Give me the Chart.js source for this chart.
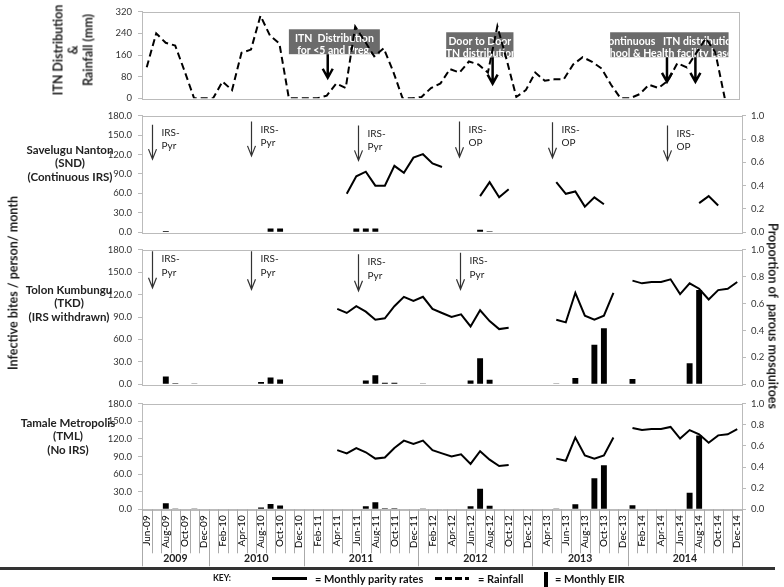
<!DOCTYPE html>
<html>
<head>
<meta charset="utf-8">
<script src="https://cdn.jsdelivr.net/npm/chart.js@4.4.1/dist/chart.umd.min.js"></script>
<style>
  body { margin: 0; background: #fff; font-family: Lato, sans-serif; }
  #wrap { position: relative; width: 784px; height: 587px; overflow: hidden; }
  .pane { position: absolute; left: 0; width: 784px; }
  .plabel { position: absolute; font-weight: bold; font-size: 11.5px; line-height: 13.3px; text-align: center; color: #222; }
  .rot { position: absolute; font-weight: bold; color: #222; white-space: nowrap; text-align: center; transform: translate(-50%, -50%) rotate(-90deg); }
  .key { position: absolute; font-weight: bold; font-size: 11px; color: #111; white-space: nowrap; }
</style>
</head>
<body>
<div id="wrap">
  <div class="pane" style="top:0;height:110px"><canvas id="rainChart"></canvas></div>
  <div class="pane" style="top:104px;height:140px"><canvas id="sndChart"></canvas></div>
  <div class="pane" style="top:238px;height:158px"><canvas id="tkdChart"></canvas></div>
  <div class="pane" style="top:392px;height:195px"><canvas id="tmlChart"></canvas></div>

  <div class="rot" style="left:73px;top:50px;font-size:12.5px;line-height:15px">ITN Distribution<br>&amp;<br>Rainfall (mm)</div>
  <div class="rot" style="left:13px;top:283px;font-size:12.5px">Infective bites / person/ month</div>
  <div class="rot" style="left:773px;top:316px;font-size:12.5px;transform:translate(-50%,-50%) rotate(90deg)">Proportion of&nbsp; parous mosquitoes</div>

  <div class="plabel" style="left:9px;top:143px;width:122px">Savelugu Nanton<br>(SND)<br>(Continuous IRS)</div>
  <div class="plabel" style="left:8px;top:283px;width:122px">Tolon Kumbungu<br>(TKD)<br>(IRS withdrawn)</div>
  <div class="plabel" style="left:7px;top:416px;width:122px">Tamale Metropolis<br>(TML)<br>(No IRS)</div>

  <div style="position:absolute;left:0;top:567px;width:775px;height:3px;background:#333"></div>
  <div class="key" style="left:213px;top:573px;font-size:8.5px">KEY:</div>
  <div style="position:absolute;left:272px;top:577px;width:35px;height:3px;background:#000"></div>
  <div class="key" style="left:315px;top:572px">= Monthly parity rates</div>
  <div style="position:absolute;left:435px;top:577px;width:34px;height:3px;background:repeating-linear-gradient(90deg,#000 0 7px,transparent 7px 10px)"></div>
  <div class="key" style="left:478px;top:572px">= Rainfall</div>
  <div style="position:absolute;left:544px;top:572px;width:4px;height:15px;background:#000"></div>
  <div class="key" style="left:555px;top:572px">= Monthly EIR</div>
</div>

<script>
// Months on the axis (one gap in 2010 and one before Apr-13, as in the figure)
const months = ['Jun-09','Jul-09','Aug-09','Sep-09','Oct-09','Nov-09','Dec-09',
  'Jan-10','Feb-10','Mar-10','Apr-10','May-10','Aug-10','Sep-10','Oct-10','Nov-10','Dec-10',
  'Jan-11','Feb-11','Mar-11','Apr-11','May-11','Jun-11','Jul-11','Aug-11','Sep-11','Oct-11','Nov-11','Dec-11',
  'Jan-12','Feb-12','Mar-12','Apr-12','May-12','Jun-12','Jul-12','Aug-12','Sep-12','Oct-12','Nov-12','Dec-12',
  'Mar-13','Apr-13','May-13','Jun-13','Jul-13','Aug-13','Sep-13','Oct-13','Nov-13','Dec-13',
  'Jan-14','Feb-14','Mar-14','Apr-14','May-14','Jun-14','Jul-14','Aug-14','Sep-14','Oct-14','Nov-14','Dec-14'];

// Rainfall (mm)
const rainfall = [115, 240, 205, 195, 100, 0, 0, 0, 62, 30,
  168, 180, 305, 232, 202, 0, 0, 0, 0, 10,
  55, 38, 265, 212, 155, 185, 100, 0, 0, 5,
  38, 55, 108, 95, 136, 125, 95, 266, 140, 5,
  30, 95, 65, 70, 70, 125, 152, 135, 110, 50,
  0, 0, 15, 50, 38, 65, 130, 114, 168, 222,
  170, 0, null];

// Savelugu Nanton
const sndEIR = [null, null, 2, null, null, null, null, null, null, null,
  null, null, null, 6, 6, null, null, null, null, null,
  null, null, 6, 6, 6, null, null, null, null, null,
  null, null, null, null, 0.8, 4, 1.5, null, null, null,
  null, null, null, null, null, null, null, null, null, null,
  null, null, null, null, null, null, null, null, null, null,
  null, null, null];
const sndParity = [null, null, null, null, null, null, null, null, null, null,
  null, null, null, null, null, null, null, null, null, null,
  null, 0.33, 0.48, 0.52, 0.40, 0.40, 0.57, 0.51, 0.64, 0.67,
  0.59, 0.56, null, null, null, 0.31, 0.43, 0.30, 0.37, null,
  null, null, null, 0.43, 0.33, 0.35, 0.22, 0.30, 0.24, null,
  null, null, null, null, null, null, null, null, 0.25, 0.31,
  0.23, null, null];

// Tolon Kumbungu
const tkdEIR = [null, null, 10.5, 1.5, null, 0.5, null, null, null, null,
  null, null, 3, 9, 6.5, null, null, null, null, null,
  null, null, null, 5, 12, 2, 2, null, null, 0.3,
  null, null, null, null, 5, 35, 6, null, null, null,
  null, null, null, 0.3, null, 8.5, null, 53, 75, null,
  null, 7, null, null, null, null, null, 28, 126, null,
  null, null, null];
const tkdParity = [null, null, null, null, null, null, null, null, null, null,
  null, null, null, null, null, null, null, null, null, null,
  0.56, 0.53, 0.58, 0.54, 0.48, 0.49, 0.58, 0.65, 0.62, 0.65,
  0.56, 0.53, 0.50, 0.52, 0.43, 0.55, 0.47, 0.41, 0.42, null,
  null, null, null, 0.48, 0.46, 0.68, 0.51, 0.48, 0.51, 0.68,
  null, 0.77, 0.75, 0.76, 0.76, 0.78, 0.67, 0.75, 0.71, 0.63,
  0.70, 0.71, 0.76];

// Tamale Metropolis
const tmlEIR = [null, null, 10.5, 1.5, null, 0.5, null, null, null, null,
  null, null, 3, 9, 6.5, null, null, null, null, null,
  null, null, null, 5, 12, 2, 2, null, null, 0.3,
  null, null, null, null, 5, 35, 6, null, null, null,
  null, null, null, 0.3, null, 8.5, null, 53, 75, null,
  null, 7, null, null, null, null, null, 28, 126, null,
  null, null, null];
const tmlParity = [null, null, null, null, null, null, null, null, null, null,
  null, null, null, null, null, null, null, null, null, null,
  0.56, 0.53, 0.58, 0.54, 0.48, 0.49, 0.58, 0.65, 0.62, 0.65,
  0.56, 0.53, 0.50, 0.52, 0.43, 0.55, 0.47, 0.41, 0.42, null,
  null, null, null, 0.48, 0.46, 0.68, 0.51, 0.48, 0.51, 0.68,
  null, 0.77, 0.75, 0.76, 0.76, 0.78, 0.67, 0.75, 0.71, 0.63,
  0.70, 0.71, 0.76];

// Interventions (at = month index, from/to = axis values)
const itnNotes = [
  { x0: 15.0, x1: 24.6, top: 255, bottom: 163, text: ['ITN  Distribution', 'for <5 and Preg.'], arrows: [19.1], tip: 76 },
  { x0: 31.6, x1: 38.7, top: 244, bottom: 152, text: ['Door to Door', 'ITN distribution'], arrows: [36.5], tip: 54 },
  { x0: 48.9, x1: 61.4, top: 244, bottom: 152, text: ['Continuous   ITN distribution', 'school & Health facility based'], arrows: [54.9, 57.9], tip: 61 }
];
const sndIRS = [
  { at: 0.55, from: 166, to: 113, text: ['IRS-', 'Pyr'] },
  { at: 10.9, from: 171, to: 118, text: ['IRS-', 'Pyr'] },
  { at: 22.2, from: 165, to: 111, text: ['IRS-', 'Pyr'] },
  { at: 32.8, from: 171, to: 116, text: ['IRS-', 'OP'] },
  { at: 42.6, from: 170, to: 115, text: ['IRS-', 'OP'] },
  { at: 54.6, from: 165, to: 111, text: ['IRS-', 'OP'] }
];
const tkdIRS = [
  { at: 0.52, from: 178, to: 129, text: ['IRS-', 'Pyr'] },
  { at: 10.9, from: 178, to: 127, text: ['IRS-', 'Pyr'] },
  { at: 22.2, from: 174, to: 125, text: ['IRS-', 'Pyr'] },
  { at: 32.9, from: 176, to: 127, text: ['IRS-', 'Pyr'] }
];

Chart.defaults.font.family = 'Lato';
Chart.defaults.animation = false;
Chart.defaults.plugins.legend.display = false;
Chart.defaults.plugins.tooltip.enabled = false;

const tickFont = { family: 'Lato', size: 9.5 };

function leftAxis(max, step, dec) {
  return {
    position: 'left', min: 0, max: max,
    ticks: { stepSize: step, callback: v => v.toFixed(dec), font: tickFont, color: '#333', padding: 6 },
    grid: { drawOnChartArea: false, tickLength: 4, color: '#bbb' },
    border: { color: '#bbb' },
    afterFit: s => { s.width = 142; }
  };
}
function rightAxis() {
  return {
    position: 'right', min: 0, max: 1,
    ticks: { stepSize: 0.2, callback: v => v.toFixed(1), font: tickFont, color: '#333', padding: 5 },
    grid: { drawOnChartArea: false, tickLength: 4, color: '#bbb' },
    border: { color: '#bbb' },
    afterFit: s => { s.width = 42; }
  };
}

const frame = {
  id: 'frame',
  beforeDatasetsDraw(chart) {
    const a = chart.chartArea, ctx = chart.ctx;
    ctx.save();
    ctx.strokeStyle = '#bbb';
    ctx.lineWidth = 1;
    ctx.strokeRect(Math.round(a.left) + 0.5, Math.round(a.top) + 0.5, Math.round(a.right - a.left), Math.round(a.bottom - a.top));
    ctx.restore();
  }
};

function arrow(ctx, x, y0, y1, w, hw, hh) {
  ctx.lineWidth = w;
  ctx.beginPath();
  ctx.moveTo(x, y0);
  ctx.lineTo(x, y1);
  ctx.moveTo(x - hw, y1 - hh);
  ctx.lineTo(x, y1);
  ctx.lineTo(x + hw, y1 - hh);
  ctx.stroke();
}

function irsMarks(list, gap) {
  return {
    id: 'irs',
    afterDatasetsDraw(chart) {
      const ctx = chart.ctx, xs = chart.scales.x, ys = chart.scales.y;
      ctx.save();
      ctx.strokeStyle = '#333';
      ctx.fillStyle = '#222';
      ctx.font = '10px Lato';
      ctx.textBaseline = 'middle';
      list.forEach(m => {
        const px = Math.round(xs.getPixelForValue(m.at)) + 0.5;
        const top = ys.getPixelForValue(m.from), bot = ys.getPixelForValue(m.to);
        arrow(ctx, px, top, bot, 1.2, 4, 10);
        m.text.forEach((t, k) => ctx.fillText(t, px + 9, top + 8 + k * gap));
      });
      ctx.restore();
    }
  };
}

const itnMarks = {
  id: 'itn',
  beforeDatasetsDraw(chart) {
    const ctx = chart.ctx, xs = chart.scales.x, ys = chart.scales.y;
    ctx.save();
    itnNotes.forEach(n => {
      const l = xs.getPixelForValue(n.x0), r = xs.getPixelForValue(n.x1);
      const t = ys.getPixelForValue(n.top), b = ys.getPixelForValue(n.bottom);
      ctx.fillStyle = '#6b6b6b';
      ctx.fillRect(l, t, r - l, b - t);
      ctx.save();
      ctx.beginPath();
      ctx.rect(l, t, r - l, b - t);
      ctx.clip();
      ctx.fillStyle = '#fff';
      ctx.font = 'bold 10.5px Lato';
      ctx.textAlign = 'center';
      ctx.textBaseline = 'middle';
      n.text.forEach((s, k) => ctx.fillText(s, (l + r) / 2, t + 9 + k * 12));
      ctx.restore();
    });
    ctx.restore();
  },
  afterDatasetsDraw(chart) {
    const ctx = chart.ctx, xs = chart.scales.x, ys = chart.scales.y;
    ctx.save();
    ctx.strokeStyle = '#000';
    itnNotes.forEach(n => {
      n.arrows.forEach(a => {
        arrow(ctx, xs.getPixelForValue(a), ys.getPixelForValue(n.bottom), ys.getPixelForValue(n.tip), 2.5, 5, 9);
      });
    });
    ctx.restore();
  }
};

// year groups under the month labels
const yearAxis = {
  id: 'years',
  afterDraw(chart) {
    const ctx = chart.ctx, xs = chart.scales.x, b = chart.chartArea.bottom;
    const starts = [];
    months.forEach((m, i) => { if (i === 0 || m.slice(-2) !== months[i - 1].slice(-2)) starts.push(i); });
    ctx.save();
    ctx.strokeStyle = '#aaa';
    ctx.lineWidth = 1;
    ctx.beginPath();
    for (let i = 0; i <= months.length; i++) {
      const x = Math.round(xs.getPixelForValue(i - 0.5)) + 0.5;
      const long = starts.includes(i) || i === months.length;
      ctx.moveTo(x, b);
      ctx.lineTo(x, b + (long ? 57 : 44));
    }
    ctx.stroke();
    ctx.fillStyle = '#222';
    ctx.font = 'bold 10.5px Lato';
    ctx.textAlign = 'center';
    ctx.textBaseline = 'middle';
    starts.forEach((s, k) => {
      const e = k + 1 < starts.length ? starts[k + 1] : months.length;
      ctx.fillText('20' + months[s].slice(-2), xs.getPixelForValue((s + e - 1) / 2), b + 49);
    });
    ctx.restore();
  }
};

// Rainfall
new Chart(document.getElementById('rainChart'), {
  type: 'line',
  data: {
    labels: months,
    datasets: [{
      data: rainfall,
      borderColor: '#000',
      borderWidth: 2,
      borderDash: [7, 4],
      pointRadius: 0
    }]
  },
  options: {
    responsive: true,
    maintainAspectRatio: false,
    layout: { padding: { top: 3.3, bottom: 8.3, right: 45, left: 0 } },
    scales: {
      x: { display: false, offset: true },
      y: leftAxis(320, 80, 0)
    }
  },
  plugins: [frame, itnMarks]
});

function sitePanel(id, eir, parity, padTop, padBottom, marks, showX) {
  const x = showX ? {
    offset: true,
    grid: { display: false, drawTicks: false },
    border: { color: '#bbb' },
    ticks: {
      autoSkip: false, minRotation: 90, maxRotation: 90, padding: 6,
      font: { family: 'Lato', size: 10 }, color: '#000',
      callback: (v, i) => (i % 2 === 0 ? months[i] : '')
    },
    afterFit: s => { s.height = 77.7; }
  } : { display: false, offset: true };
  const plugins = [frame];
  if (marks) plugins.push(marks);
  if (showX) plugins.push(yearAxis);
  new Chart(document.getElementById(id), {
    type: 'bar',
    data: {
      labels: months,
      datasets: [
        {
          type: 'line',
          data: parity,
          yAxisID: 'y1',
          borderColor: '#000',
          borderWidth: 2,
          pointRadius: 0
        },
        {
          data: eir,
          yAxisID: 'y',
          backgroundColor: '#000',
          barPercentage: 0.62,
          categoryPercentage: 1
        }
      ]
    },
    options: {
      responsive: true,
      maintainAspectRatio: false,
      layout: { padding: { top: padTop, bottom: padBottom, left: 0, right: 0 } },
      scales: {
        x: x,
        y: leftAxis(180, 30, 1),
        y1: rightAxis()
      }
    },
    plugins: plugins
  });
}

sitePanel('sndChart', sndEIR, sndParity, 8.3, 8, irsMarks(sndIRS, 13), false);
sitePanel('tkdChart', tkdEIR, tkdParity, 8.7, 7.7, irsMarks(tkdIRS, 14), false);
sitePanel('tmlChart', tmlEIR, tmlParity, 8.7, 0, null, true);
</script>
</body>
</html>
